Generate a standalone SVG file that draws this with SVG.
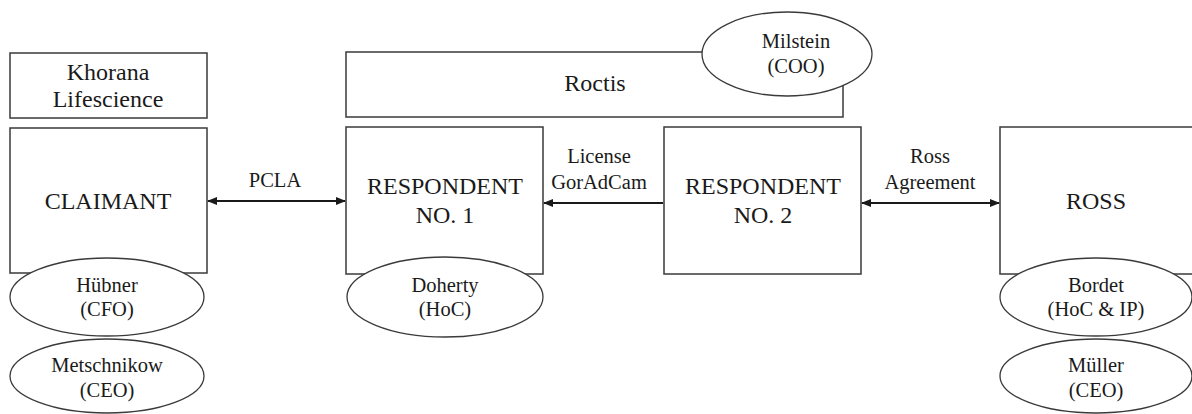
<svg xmlns="http://www.w3.org/2000/svg" width="1192" height="414" viewBox="0 0 1192 414">
<style>
.box{fill:#fff;stroke:#3a3a3a;stroke-width:1.5}
.ell{fill:#fff;stroke:#3a3a3a;stroke-width:1.3}
.t{font-family:"Liberation Serif","DejaVu Serif",serif;fill:#1a1a1a;text-anchor:middle}
.big{font-size:24px}
.sm{font-size:20.5px}
.lbl{font-size:20.5px}
.conn{stroke:#1a1a1a;stroke-width:2;fill:none}
</style>
<defs>
<marker id="ah" viewBox="0 0 10 10" refX="9" refY="5" markerWidth="5" markerHeight="5" orient="auto-start-reverse" markerUnits="strokeWidth">
<path d="M0,1 L10,5 L0,9 z" fill="#1a1a1a"/>
</marker>
</defs>
<rect width="1192" height="414" fill="#fff"/>
<g id="khorana">
<rect class="box" x="10" y="53" width="197" height="65"/>
<text class="t big" x="108" y="80">Khorana</text>
<text class="t big" x="108" y="107">Lifescience</text>
</g>
<g id="claimant">
<rect class="box" x="10" y="128" width="197" height="145"/>
<text class="t big" x="108" y="209">CLAIMANT</text>
</g>
<g id="huebner">
<ellipse class="ell" cx="107" cy="297" rx="97" ry="39"/>
<text class="t sm" x="107" y="292">Hübner</text>
<text class="t sm" x="107" y="316">(CFO)</text>
</g>
<g id="metschnikow">
<ellipse class="ell" cx="107" cy="376" rx="97" ry="37"/>
<text class="t sm" x="107" y="372">Metschnikow</text>
<text class="t sm" x="107" y="397">(CEO)</text>
</g>
<g id="roctis">
<rect class="box" x="346" y="52" width="497" height="65"/>
<text class="t big" x="595" y="91">Roctis</text>
</g>
<g id="milstein">
<ellipse class="ell" cx="787" cy="54" rx="85" ry="42"/>
<text class="t sm" x="796" y="48">Milstein</text>
<text class="t sm" x="796" y="73">(COO)</text>
</g>
<g id="respondent1">
<rect class="box" x="346" y="127" width="197" height="147"/>
<text class="t big" x="445" y="194">RESPONDENT</text>
<text class="t big" x="445" y="223">NO. 1</text>
</g>
<g id="doherty">
<ellipse class="ell" cx="445" cy="297" rx="98" ry="40"/>
<text class="t sm" x="445" y="292">Doherty</text>
<text class="t sm" x="445" y="316">(HoC)</text>
</g>
<g id="respondent2">
<rect class="box" x="664" y="127" width="197" height="147"/>
<text class="t big" x="763" y="194">RESPONDENT</text>
<text class="t big" x="763" y="223">NO. 2</text>
</g>
<g id="ross">
<rect class="box" x="1000" y="127" width="200" height="147"/>
<text class="t big" x="1096" y="209">ROSS</text>
</g>
<g id="bordet">
<ellipse class="ell" cx="1096" cy="297" rx="96" ry="39"/>
<text class="t sm" x="1096" y="292">Bordet</text>
<text class="t sm" x="1096" y="316">(HoC &amp; IP)</text>
</g>
<g id="mueller">
<ellipse class="ell" cx="1096" cy="376" rx="96" ry="37"/>
<text class="t sm" x="1096" y="372">Müller</text>
<text class="t sm" x="1096" y="397">(CEO)</text>
</g>
<g id="connectors">
<line class="conn" x1="208" y1="201" x2="345" y2="201" marker-start="url(#ah)" marker-end="url(#ah)"/>
<text class="t lbl" x="275" y="187">PCLA</text>
<line class="conn" x1="663" y1="203" x2="544" y2="203" marker-end="url(#ah)"/>
<text class="t lbl" x="599" y="163">License</text>
<text class="t lbl" x="599" y="189">GorAdCam</text>
<line class="conn" x1="862" y1="203" x2="999" y2="203" marker-start="url(#ah)" marker-end="url(#ah)"/>
<text class="t lbl" x="930" y="163">Ross</text>
<text class="t lbl" x="930" y="189">Agreement</text>
</g>
</svg>
